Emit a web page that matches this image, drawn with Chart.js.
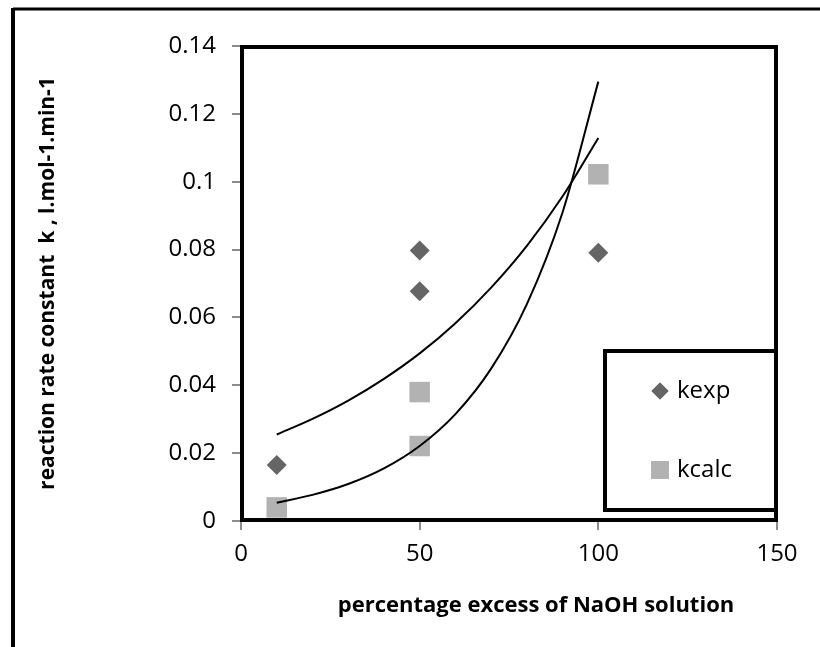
<!DOCTYPE html>
<html>
<head>
<meta charset="utf-8">
<script src="https://cdn.jsdelivr.net/npm/chart.js@4.4.0/dist/chart.umd.min.js"></script>
<style>
  html, body { margin: 0; padding: 0; background: #fff; }
  #wrap { width: 820px; height: 647px; position: relative; }
</style>
</head>
<body>
<div id="wrap"><canvas id="rateChart" width="820" height="647"></canvas></div>
<script>
// measured points
const kexpX = [10, 50, 50, 100];
const kexpY = [0.0165, 0.0797, 0.0677, 0.0791];
const kcalcX = [10, 50, 50, 100];
const kcalcY = [0.0040, 0.0380, 0.0221, 0.1022];

// exponential trendlines, every 10 units
const trendX = [10, 20, 30, 40, 50, 60, 70, 80, 90, 100];
const kexpTrend = [0.0255, 0.0301, 0.0355, 0.0419, 0.0494, 0.0583, 0.0688, 0.0811, 0.0957, 0.1129];
const kcalcTrend = [0.0054, 0.0077, 0.0109, 0.0155, 0.0221, 0.0315, 0.0449, 0.0639, 0.0910, 0.1295];

const xTicks = [0, 50, 100, 150];
const yTicks = [0, 0.02, 0.04, 0.06, 0.08, 0.1, 0.12, 0.14];
const yTickLabels = ['0', '0.02', '0.04', '0.06', '0.08', '0.1', '0.12', '0.14'];

const xTitle = 'percentage excess of NaOH solution';
const yTitle = 'reaction rate constant  k , l.mol-1.min-1';

const kexpColor = '#656565';
const kcalcColor = '#b2b2b2';
const tickFont = { family: 'Open Sans', size: 24 };

function toPoints(xs, ys) {
    return xs.map((x, i) => ({ x: x, y: ys[i] }));
}

// plot frame, outer frame, x title and legend box (Excel style)
const framePlugin = {
    id: 'frames',
    beforeDatasetsDraw(chart) {
        const { ctx, chartArea: a } = chart;
        ctx.save();
        ctx.strokeStyle = '#000';
        ctx.lineWidth = 4;
        ctx.strokeRect(a.left + 1, a.top + 1, a.right - a.left - 2, a.bottom - a.top - 2);
        ctx.restore();
    },
    afterDraw(chart) {
        const { ctx, chartArea: a, width, height } = chart;
        ctx.save();
        // outer chart border (top and left only visible)
        ctx.strokeStyle = '#000';
        ctx.lineWidth = 3;
        ctx.beginPath();
        ctx.moveTo(width, 9);
        ctx.lineTo(13, 9);
        ctx.stroke();
        ctx.lineWidth = 4;
        ctx.beginPath();
        ctx.moveTo(13, 8);
        ctx.lineTo(13, height);
        ctx.stroke();

        // x axis title (Excel puts it a bit right of the plot centre)
        ctx.fillStyle = '#000';
        ctx.font = 'bold 22px "Open Sans"';
        ctx.textAlign = 'center';
        ctx.textBaseline = 'middle';
        ctx.fillText(xTitle, 536, 606);

        // legend box
        const boxR = a.right - 1, boxB = a.bottom - 11;
        const boxL = boxR - 171, boxT = boxB - 159;
        ctx.fillStyle = '#fff';
        ctx.fillRect(boxL, boxT, boxR - boxL, boxB - boxT);
        ctx.lineWidth = 4;
        ctx.strokeStyle = '#000';
        ctx.strokeRect(boxL, boxT, boxR - boxL, boxB - boxT);

        const items = [chart.data.datasets[0], chart.data.datasets[1]];
        ctx.font = '24px "Open Sans"';
        ctx.textBaseline = 'middle';
        ctx.textAlign = 'left';
        items.forEach((ds, i) => {
            const cy = boxT + 40 + i * 79;
            const cx = boxL + 55;
            ctx.fillStyle = ds.backgroundColor;
            Chart.helpers.drawPoint(ctx, {
                pointStyle: ds.pointStyle,
                radius: ds.pointStyle === 'rect' ? 12.5 : 8.5,
                borderWidth: 0
            }, cx, cy);
            ctx.fill();
            ctx.fillStyle = '#000';
            ctx.fillText(ds.label, cx + 17, cy);
        });
        ctx.restore();
    }
};

new Chart(document.getElementById('rateChart'), {
    type: 'scatter',
    data: {
        datasets: [
            {
                label: 'kexp',
                data: toPoints(kexpX, kexpY),
                pointStyle: 'rectRot',
                pointRadius: 10,
                backgroundColor: kexpColor,
                borderColor: kexpColor,
                borderWidth: 0,
                order: 1
            },
            {
                label: 'kcalc',
                data: toPoints(kcalcX, kcalcY),
                pointStyle: 'rect',
                pointRadius: 14.5,
                backgroundColor: kcalcColor,
                borderColor: kcalcColor,
                borderWidth: 0,
                order: 2
            },
            {
                label: 'Expon. (kexp)',
                data: toPoints(trendX, kexpTrend),
                showLine: true,
                pointRadius: 0,
                borderColor: '#000',
                borderWidth: 2,
                cubicInterpolationMode: 'monotone',
                order: 0
            },
            {
                label: 'Expon. (kcalc)',
                data: toPoints(trendX, kcalcTrend),
                showLine: true,
                pointRadius: 0,
                borderColor: '#000',
                borderWidth: 2,
                cubicInterpolationMode: 'monotone',
                order: 0
            }
        ]
    },
    options: {
        responsive: false,
        animation: false,
        layout: { padding: { top: 46, right: 43, left: 0, bottom: 0 } },
        plugins: {
            legend: { display: false },
            tooltip: { enabled: false }
        },
        scales: {
            x: {
                min: 0,
                max: 150,
                afterFit(scale) { scale.height = 126; },
                afterBuildTicks(scale) { scale.ticks = xTicks.map(v => ({ value: v })); },
                ticks: { color: '#000', font: tickFont, padding: 10, maxRotation: 0 },
                grid: { drawOnChartArea: false, color: '#8c8c8c', tickLength: 9, lineWidth: 2 },
                border: { color: '#8c8c8c', width: 2 }
            },
            y: {
                min: 0,
                max: 0.14,
                afterFit(scale) { scale.width = 241; },
                afterBuildTicks(scale) { scale.ticks = yTicks.map(v => ({ value: v })); },
                ticks: {
                    color: '#000',
                    font: tickFont,
                    padding: 16,
                    callback: (value, index) => yTickLabels[index]
                },
                grid: { drawOnChartArea: false, color: '#8c8c8c', tickLength: 9, lineWidth: 2 },
                border: { color: '#8c8c8c', width: 2 },
                title: {
                    display: true,
                    text: yTitle,
                    color: '#000',
                    font: { family: 'Open Sans', size: 21, weight: 'bold' },
                    padding: { top: 35, bottom: 0 }
                }
            }
        }
    },
    plugins: [framePlugin]
});
</script>
</body>
</html>
